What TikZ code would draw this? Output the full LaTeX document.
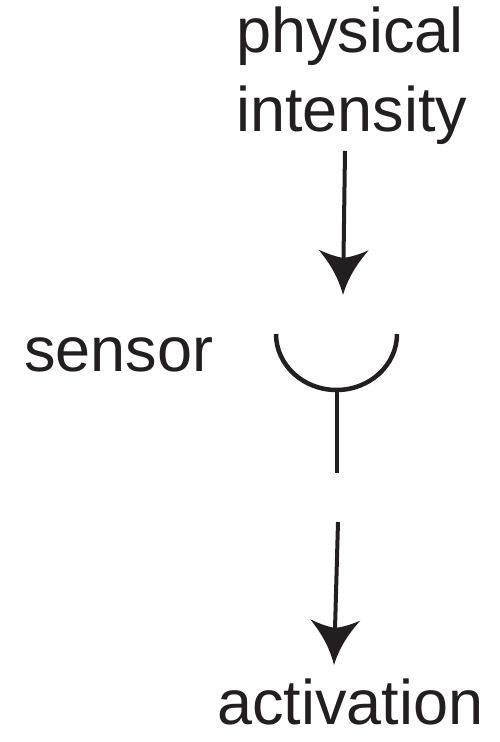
\documentclass[tikz,border=0pt]{standalone}
\usepackage{fontspec}
\setmainfont{Liberation Sans}
\usetikzlibrary{arrows.meta}

% swept arrow head with concave flanks and a notched back
\pgfdeclarearrow{
  name=Swept,
  setup code={
    \pgfarrowssettipend{0pt}
    \pgfarrowssetbackend{-45pt}
    \pgfarrowssetlineend{-30pt}
    \pgfarrowshullpoint{0pt}{0pt}
    \pgfarrowshullpoint{-45pt}{25pt}
    \pgfarrowshullpoint{-45pt}{-25pt}
  },
  drawing code={
    \pgfpathmoveto{\pgfpointorigin}
    \pgfpathcurveto{\pgfpoint{-18pt}{5pt}}{\pgfpoint{-32pt}{14pt}}{\pgfpoint{-45pt}{25pt}}
    \pgfpathcurveto{\pgfpoint{-40pt}{14pt}}{\pgfpoint{-38pt}{6pt}}{\pgfpoint{-37pt}{0pt}}
    \pgfpathcurveto{\pgfpoint{-38pt}{-6pt}}{\pgfpoint{-40pt}{-14pt}}{\pgfpoint{-45pt}{-25pt}}
    \pgfpathcurveto{\pgfpoint{-32pt}{-14pt}}{\pgfpoint{-18pt}{-5pt}}{\pgfpointorigin}
    \pgfpathclose
    \pgfusepathqfill
  }
}

\definecolor{ink}{HTML}{231F20}

\tikzset{
  label/.style={anchor=base west, inner sep=0pt, text=ink,
    font=\fontsize{63}{75}\selectfont},
  flow/.style={draw=ink, fill=ink, line width=4pt, -{Swept}},
  cup/.style={draw=ink, line width=4.5pt}
}

\begin{document}
\begin{tikzpicture}[x=1pt, y=1pt]
  \useasboundingbox (0,0) rectangle (500,742);

  % labels
  \node[label] (phys)  at (236,689) {physical};
  \node[label] (inten) at (236,610) {intensity};
  \node[label] (sens)  at (24,370)  {sensor};
  \node[label] (act)   at (217,17)  {activation};

  % connector end points
  \coordinate (in1)  at (345,591);
  \coordinate (in2)  at (343,447);
  \coordinate (cupL) at (276,408);
  \coordinate (stemT) at (337,352);
  \coordinate (stemB) at (337,269);
  \coordinate (out1) at (338,220);
  \coordinate (out2) at (334,77);

  % incoming stimulus
  \draw[flow] (in1) -- (in2);

  % receptor cup and its stem
  \draw[cup] (cupL) arc[start angle=180, end angle=360, x radius=60.5, y radius=56];
  \draw[cup] (stemT) -- (stemB);

  % outgoing activation
  \draw[flow] (out1) -- (out2);
\end{tikzpicture}
\end{document}
